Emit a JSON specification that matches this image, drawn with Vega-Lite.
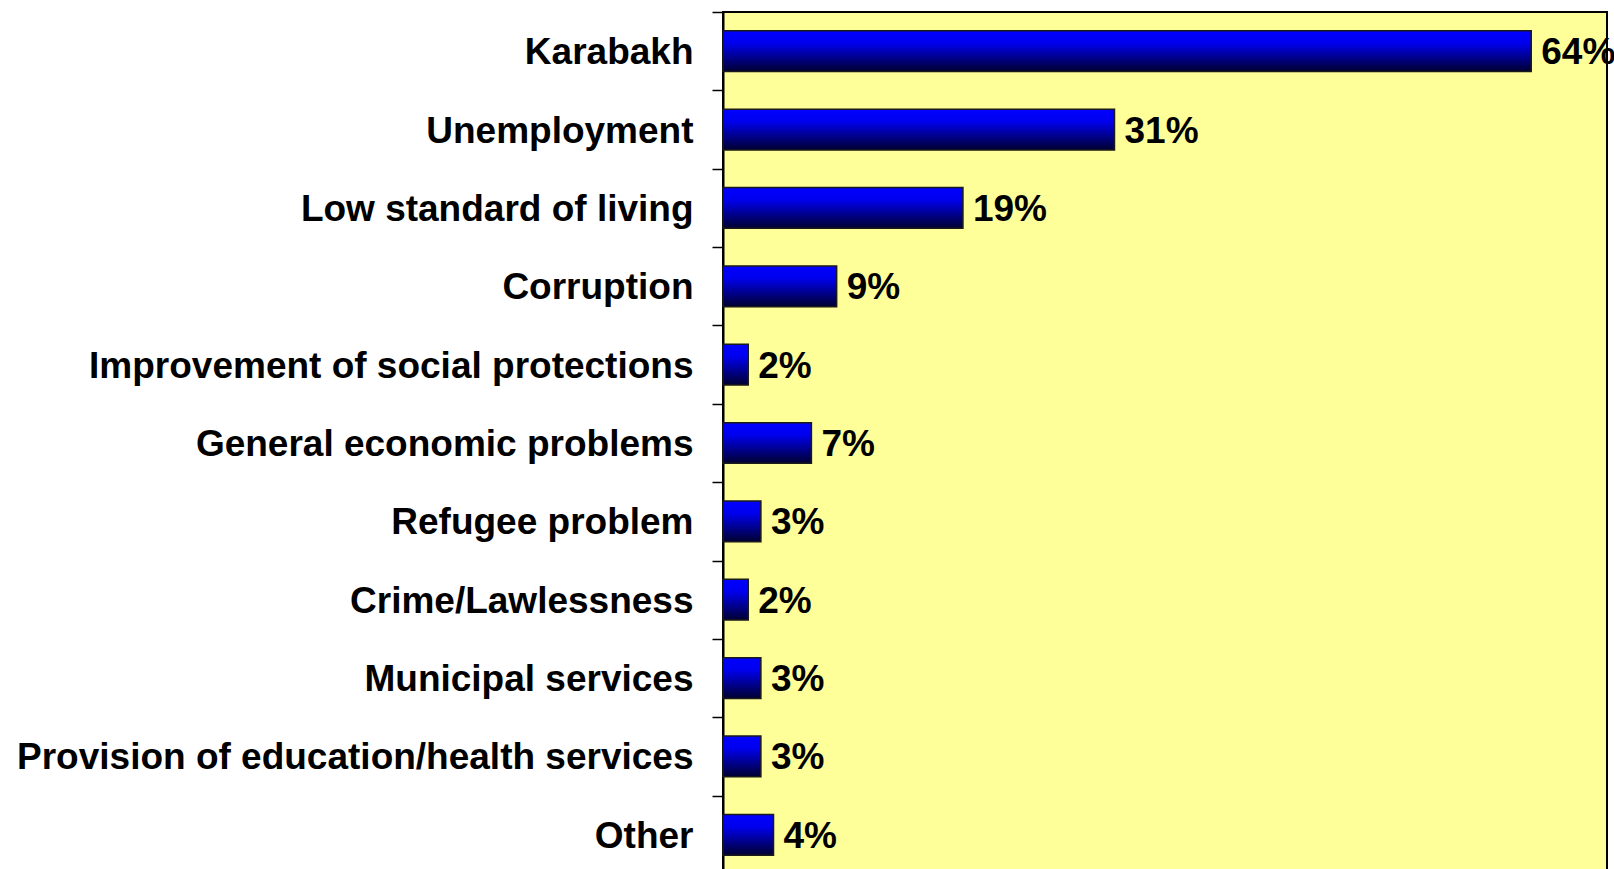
{
  "$schema": "https://vega.github.io/schema/vega-lite/v6.json",
  "autosize": {"type": "none"},
  "padding": {"left": 723, "top": 12, "right": 7, "bottom": 0},
  "width": 884,
  "height": 862,
  "background": "white",
  "config": {
    "view": {"fill": "#FFFF99", "stroke": "#000000", "strokeWidth": 2},
    "font": "Liberation Sans"
  },
  "data": {
    "values": [
      {"issue": "Karabakh", "value": 64, "label": "64%"},
      {"issue": "Unemployment", "value": 31, "label": "31%"},
      {"issue": "Low standard of living", "value": 19, "label": "19%"},
      {"issue": "Corruption", "value": 9, "label": "9%"},
      {"issue": "Improvement of social protections", "value": 2, "label": "2%"},
      {"issue": "General economic problems", "value": 7, "label": "7%"},
      {"issue": "Refugee problem", "value": 3, "label": "3%"},
      {"issue": "Crime/Lawlessness", "value": 2, "label": "2%"},
      {"issue": "Municipal services", "value": 3, "label": "3%"},
      {"issue": "Provision of education/health services", "value": 3, "label": "3%"},
      {"issue": "Other", "value": 4, "label": "4%"}
    ]
  },
  "encoding": {
    "y": {
      "field": "issue",
      "type": "nominal",
      "sort": null,
      "scale": {"paddingInner": 0, "paddingOuter": 0},
      "axis": {
        "title": null,
        "domain": true,
        "domainColor": "#000000",
        "domainWidth": 2,
        "ticks": true,
        "tickBand": "extent",
        "tickSize": 11,
        "tickColor": "#000000",
        "tickWidth": 1.5,
        "labelFont": "Liberation Sans",
        "labelFontWeight": "bold",
        "labelFontSize": 37,
        "labelColor": "#000000",
        "labelPadding": 19,
        "labelOffset": 1.5,
        "labelLimit": 800
      }
    },
    "x": {
      "field": "value",
      "type": "quantitative",
      "scale": {"domain": [0, 70], "nice": false},
      "axis": null
    }
  },
  "layer": [
    {
      "mark": {
        "type": "bar",
        "height": {"band": 0.52},
        "stroke": "#1a1a1a",
        "strokeWidth": 1.5,
        "color": {
          "gradient": "linear",
          "x1": 0, "y1": 0, "x2": 0, "y2": 1,
          "stops": [
            {"offset": 0, "color": "#0000FF"},
            {"offset": 0.3, "color": "#0000EE"},
            {"offset": 1, "color": "#000030"}
          ]
        }
      }
    },
    {
      "mark": {
        "type": "text",
        "align": "left",
        "baseline": "middle",
        "dx": 10,
        "dy": 2,
        "font": "Liberation Sans",
        "fontWeight": "bold",
        "fontSize": 37,
        "color": "#000000"
      },
      "encoding": {"text": {"field": "label"}}
    }
  ]
}
